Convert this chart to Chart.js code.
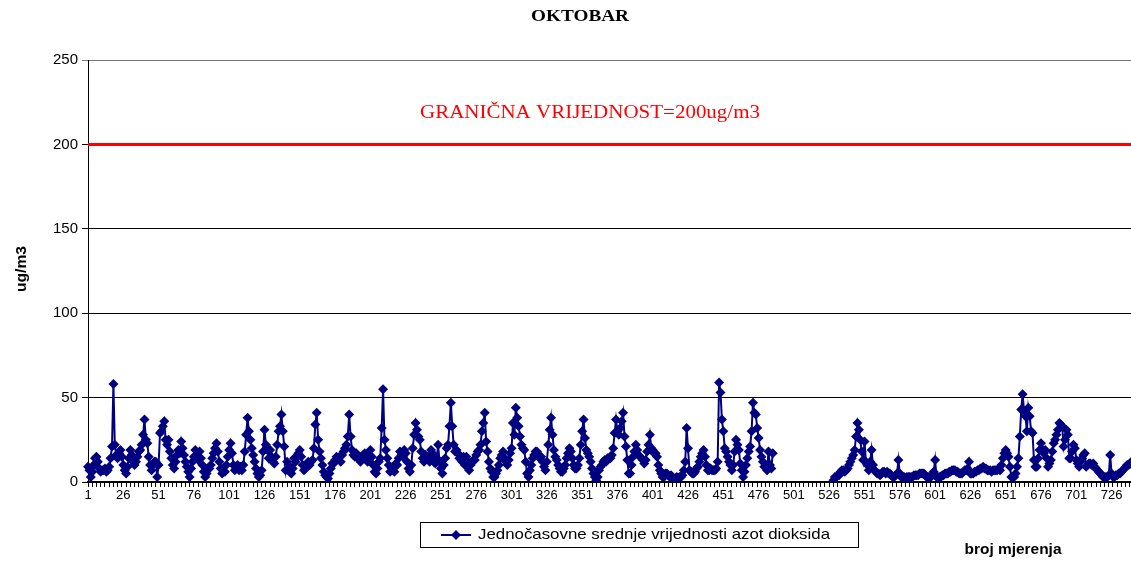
<!DOCTYPE html>
<html>
<head>
<meta charset="utf-8">
<script src="https://cdn.jsdelivr.net/npm/chart.js@4"></script>
<style>
  body { margin: 0; background: #fff; overflow: hidden; }
  #wrap { width: 1131px; height: 562px; overflow: hidden; }
</style>
</head>
<body>
<div id="wrap"><canvas id="myChart" width="1142" height="562"></canvas></div>
<script>
/**
 * Data: hourly NO2 means, October (744 measurements), one row per day
 */

var chartTitle = 'OKTOBAR';
var seriesName = 'Jednočasovne srednje vrijednosti azot dioksida';
var limitValue = 200;
var limitLabel = 'GRANIČNA VRIJEDNOST=200ug/m3';
var yTicks = [0, 50, 100, 150, 200, 250];
var labelEvery = 25;

var day01 = [9,7,3,6,10,14,15,12,8,6,7,7,8,6,7,9,14,21,58,22,16,14,17,19];
var day02 = [15,10,7,5,9,14,19,16,12,10,12,15,18,19,22,28,37,25,23,15,10,7,10,12];
var day03 = [12,3,10,29,30,33,36,25,22,25,18,14,10,8,12,16,19,17,24,20,16,12,9,6];
var day04 = [3,8,12,15,19,16,13,18,14,10,6,3,5,8,8,10,14,17,20,23,18,12,8,5];
var day05 = [6,6,10,15,19,23,17,10,7,8,10,7,9,7,10,18,28,38,30,25,20,16,12,8];
var day06 = [5,3,4,7,18,31,22,19,14,19,15,12,11,15,22,30,33,40,30,21,7,12,10,6];
var day07 = [5,8,14,12,15,17,19,15,10,7,8,10,12,10,12,13,20,34,41,25,18,14,10,6];
var day08 = [4,3,2,5,8,11,11,13,15,14,15,12,16,18,20,22,27,40,27,19,16,15,17,14];
var day09 = [15,12,14,16,17,14,12,16,19,15,10,6,5,8,12,14,32,55,25,19,14,10,6,8];
var day10 = [8,6,11,10,14,18,16,15,19,17,12,8,6,10,20,28,35,31,27,25,18,14,12,16];
var day11 = [15,14,12,19,17,12,11,14,22,12,8,5,10,14,20,22,33,47,33,22,18,19,17,14];
var day12 = [14,12,15,10,15,12,7,10,12,13,13,16,18,19,22,30,35,41,24,18,12,8,6,3];
var day13 = [3,5,7,10,14,16,18,14,12,10,13,17,20,35,28,44,38,33,27,22,20,19,12,5];
var day14 = [3,7,10,14,16,18,18,15,14,15,12,9,7,12,22,31,38,28,19,15,13,10,8,6];
var day15 = [6,8,10,14,17,20,18,14,10,8,8,10,14,22,30,37,26,19,17,15,12,8,5,3];
var day16 = [1,3,7,9,10,12,13,12,14,14,14,16,20,29,37,30,28,32,36,41,27,21,13,5];
var day17 = [5,10,15,18,22,19,16,15,14,13,11,13,18,22,28,20,19,17,17,15,10,7,5,3];
var day18 = [3,5,5,4,3,4,3,2,2,3,2,3,3,4,7,12,32,20,7,6,5,5,6,8];
var day19 = [9,12,15,17,19,15,10,7,7,8,7,7,7,8,12,59,53,37,30,20,18,15,12,10];
var day20 = [7,10,18,25,22,19,11,7,3,6,10,14,18,21,30,47,41,40,32,26,19,15,12,9];
var day21 = [9,7,18,10,8,17,null,null,null,null,null,null,null,null,null,null,null,null,null,null,null,null,null,null];
var day22 = [null,null,null,null,null,null,null,null,null,null,null,null,null,null,null,null,null,null,null,null,null,null,null,null];
var day23 = [1,3,3,4,4,6,7,7,6,7,8,10,12,14,16,19,27,35,31,25,18,13,24,12];
var day24 = [10,7,12,19,10,7,6,5,5,4,5,6,6,5,6,5,5,4,3,3,4,5,13,5];
var day25 = [3,3,3,2,3,3,3,3,3,4,4,4,4,5,5,5,5,4,3,3,3,3,4,6];
var day26 = [13,3,3,3,3,4,4,5,5,5,6,6,7,7,7,6,6,5,5,5,6,7,7,8];
var day27 = [12,5,5,5,6,6,7,7,8,8,9,8,8,7,7,7,6,7,7,7,7,8,7,10];
var day28 = [14,17,19,17,15,9,3,3,3,5,9,14,27,43,52,42,39,30,44,39,30,29,13,9];
var day29 = [9,14,19,23,19,17,19,14,9,11,13,18,23,25,28,31,35,34,33,21,25,31,28,14];
var day30 = [14,18,22,20,13,11,9,12,14,16,17,9,10,11,11,10,11,9,8,7,6,5,4,3];
var day31 = [3,3,3,4,16,5,3,3,4,4,5,5,6,7,8,9,10,10,11,12,10,9,8,7];

var values = [].concat(day01, day02, day03, day04, day05, day06, day07, day08,
    day09, day10, day11, day12, day13, day14, day15, day16, day17, day18, day19,
    day20, day21, day22, day23, day24, day25, day26, day27, day28, day29, day30, day31);

var labels = [];
for (var i = 0; i < values.length; i++) {
    labels.push(String(i + 1));
}

// text stretched to the width it has in the original picture
var fitText = function(ctx, text, x, y, width) {
    var w = ctx.measureText(text).width;
    ctx.save();
    ctx.translate(x, y);
    ctx.scale(width / w, 1);
    ctx.fillText(text, 0, 0);
    ctx.restore();
};

/**
 * Extra drawing: limit line, title, axis names, legend box
 */

var extrasPlugin = {
    id: 'extras',
    beforeDatasetsDraw: function(chart) {
        var ctx = chart.ctx;
        var area = chart.chartArea;
        var y = chart.scales.y.getPixelForValue(limitValue);
        ctx.save();
        ctx.strokeStyle = '#ff0000';
        ctx.lineWidth = 3;
        ctx.beginPath();
        ctx.moveTo(area.left, y);
        ctx.lineTo(area.right + 5, y);
        ctx.stroke();
        ctx.restore();
    },
    afterDraw: function(chart) {
        var ctx = chart.ctx;
        var y = chart.scales.y.getPixelForValue(limitValue);
        ctx.save();
        ctx.textBaseline = 'middle';

        // title
        ctx.fillStyle = '#000';
        ctx.textAlign = 'center';
        ctx.font = 'bold 17px "Liberation Serif"';
        fitText(ctx, chartTitle, 580, 17, 98);

        // limit label
        ctx.fillStyle = '#ff0000';
        ctx.font = '18px "Liberation Serif"';
        fitText(ctx, limitLabel, 590, y - 31, 340);

        // y axis name
        ctx.fillStyle = '#000';
        ctx.font = 'bold 14px "Liberation Sans"';
        ctx.save();
        ctx.translate(22, 269);
        ctx.rotate(-Math.PI / 2);
        fitText(ctx, 'ug/m3', 0, 0, 46);
        ctx.restore();

        // x axis name
        fitText(ctx, 'broj mjerenja', 1013, 550, 97);

        // legend
        ctx.strokeStyle = '#000';
        ctx.lineWidth = 1;
        ctx.strokeRect(420.5, 522.5, 438, 25);
        ctx.strokeStyle = '#000080';
        ctx.lineWidth = 2;
        ctx.beginPath();
        ctx.moveTo(441, 535);
        ctx.lineTo(471, 535);
        ctx.stroke();
        ctx.fillStyle = '#000080';
        ctx.beginPath();
        ctx.moveTo(456, 530);
        ctx.lineTo(461, 535);
        ctx.lineTo(456, 540);
        ctx.lineTo(451, 535);
        ctx.closePath();
        ctx.fill();
        ctx.fillStyle = '#000';
        ctx.textAlign = 'left';
        ctx.font = '15px "Liberation Sans"';
        fitText(ctx, seriesName, 478, 535, 352);

        ctx.restore();
    }
};

Chart.defaults.font.family = '"Liberation Sans", Arial, sans-serif';
Chart.defaults.color = '#000';

var ctx = document.getElementById('myChart').getContext('2d');
var chart = new Chart(ctx, {
    type: 'line',
    data: {
        labels: labels,
        datasets: [{
            label: seriesName,
            data: values,
            borderColor: '#000080',
            backgroundColor: '#000080',
            borderWidth: 2,
            pointStyle: 'rectRot',
            pointRadius: 5,
            pointBorderWidth: 0,
            pointBackgroundColor: '#000080',
            spanGaps: false,
            tension: 0
        }]
    },
    options: {
        responsive: false,
        animation: false,
        devicePixelRatio: 1,
        layout: { padding: { top: 60, right: 4, left: 0, bottom: 0 } },
        plugins: {
            legend: { display: false },
            title: { display: false },
            tooltip: { enabled: false }
        },
        scales: {
            x: {
                type: 'category',
                offset: false,
                afterFit: function(scale) { scale.height = 80; },
                grid: {
                    drawOnChartArea: false,
                    drawTicks: true,
                    tickLength: 5,
                    tickColor: function(c) {
                        return c.index % 3 === 0 ? '#000' : 'rgba(0,0,0,0)';
                    }
                },
                border: { color: '#000', width: 2 },
                ticks: {
                    autoSkip: false,
                    maxRotation: 0,
                    minRotation: 0,
                    padding: 1,
                    font: { size: 13 },
                    callback: function(val, index) {
                        return index % labelEvery === 0 ? labels[index] : '';
                    }
                }
            },
            y: {
                min: 0,
                max: 250,
                afterFit: function(scale) { scale.width = 88; },
                afterBuildTicks: function(scale) {
                    scale.ticks = yTicks.map(function(v) { return { value: v }; });
                },
                grid: {
                    color: function(c) { return c.tick && c.tick.value === 250 ? '#777' : '#000'; },
                    lineWidth: 1,
                    tickLength: 6
                },
                border: { color: '#000', width: 1 },
                ticks: { font: { size: 15 }, padding: 4 }
            }
        }
    },
    plugins: [extrasPlugin]
});
</script>
</body>
</html>
